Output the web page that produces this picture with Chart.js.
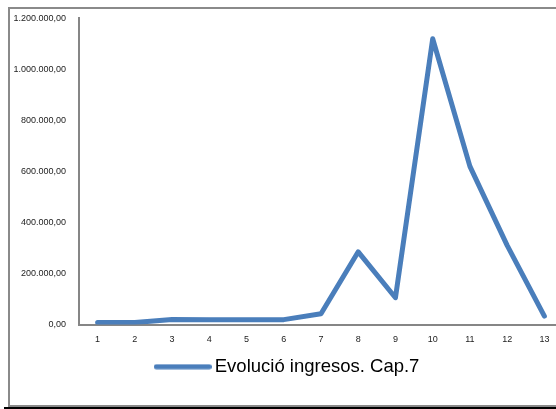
<!DOCTYPE html>
<html>
<head>
<meta charset="utf-8">
<script src="https://cdn.jsdelivr.net/npm/chart.js@4.4.1/dist/chart.umd.min.js"></script>
<style>
  body { margin: 0; width: 556px; height: 409px; overflow: hidden; background: #fff; position: relative; }
  #Frame { position: absolute; left: 8px; top: 7px; width: 600px; height: 396px; border: 2px solid #8a8a8a; border-right: none; }
  #Bottom-Line { position: absolute; left: 4px; top: 407px; width: 560px; height: 2px; background: #000; }
  #Chart-Canvas { position: absolute; left: 0; top: 0; }
</style>
</head>
<body>
<div id="Frame"></div>
<div id="Bottom-Line"></div>
<canvas id="Chart-Canvas" width="580" height="409"></canvas>
<script>
'use strict';

var periods = ['1', '2', '3', '4', '5', '6', '7', '8', '9', '10', '11', '12', '13'];
var ingresos = [8000, 8000, 20000, 19000, 19000, 19000, 42000, 285000, 105000, 1120000, 620000, 310000, 33000];
var seriesName = 'Evolució ingresos. Cap.7';
var yMax = 1200000;
var yStep = 200000;

var lineColor = '#4a7ebb';
var legendFontSize = 18.5;

// 1234567 -> "1.234.567,00"
function formatEuro(value) {
  var parts = Number(value).toFixed(2).split('.');
  var intPart = parts[0].replace(/\B(?=(\d{3})+(?!\d))/g, '.');
  return intPart + ',' + parts[1];
}

// small line swatch used as the legend marker
function makeLegendLine() {
  var c = document.createElement('canvas');
  c.width = 58;
  c.height = 6;
  var ctx = c.getContext('2d');
  ctx.strokeStyle = lineColor;
  ctx.lineWidth = 5;
  ctx.lineCap = 'round';
  ctx.beginPath();
  ctx.moveTo(2.5, 3);
  ctx.lineTo(55.5, 3);
  ctx.stroke();
  return c;
}

// slide the legend sideways so the swatch starts where we want it
var legendNudge = {
  id: 'legendNudge',
  afterLayout: function(chart) {
    var lg = chart.legend;
    if (!lg || !lg.legendHitBoxes || !lg.legendHitBoxes.length) return;
    var itemWidth = lg.legendHitBoxes[0].width;
    var current = (lg.left + lg.right - itemWidth) / 2;
    var dx = 160 - current;
    lg.left += dx;
    lg.right += dx;
  }
};

var canvasEl = document.getElementById('Chart-Canvas').getContext('2d');

var chartData = {
  labels: periods,
  datasets: [{
    label: seriesName,
    data: ingresos,
    borderColor: lineColor,
    backgroundColor: lineColor,
    borderWidth: 5,
    borderCapStyle: 'round',
    borderJoinStyle: 'round',
    pointRadius: 0,
    pointHoverRadius: 0,
    pointStyle: makeLegendLine(),
    tension: 0
  }]
};

var ingresosChart = new Chart(canvasEl, {
  type: 'line',
  data: chartData,
  plugins: [legendNudge],
  options: {
    responsive: false,
    animation: false,
    devicePixelRatio: 1,
    layout: {
      padding: { top: 14, right: 17, bottom: 23, left: 0 }
    },
    plugins: {
      tooltip: { enabled: false },
      legend: {
        position: 'bottom',
        labels: {
          usePointStyle: true,
          pointStyleWidth: 45.5,
          boxHeight: 6,
          padding: 10,
          color: '#000',
          font: { family: 'Liberation Sans', size: legendFontSize }
        }
      }
    },
    scales: {
      x: {
        offset: true,
        grid: { display: false, drawTicks: false },
        border: { display: true, color: '#868686', width: 2 },
        ticks: {
          padding: 10,
          color: '#222',
          maxRotation: 0,
          font: { family: 'Liberation Sans', size: 9 }
        },
        afterFit: function(scale) { scale.height = 23; }
      },
      y: {
        min: 0,
        max: yMax,
        grid: { display: false, drawTicks: false },
        border: { display: true, color: '#868686', width: 2 },
        ticks: {
          stepSize: yStep,
          padding: 13,
          color: '#222',
          font: { family: 'Liberation Sans', size: 9 },
          callback: function(value) { return formatEuro(value); }
        },
        afterFit: function(scale) { scale.width = 79; }
      }
    }
  }
});
</script>
</body>
</html>
